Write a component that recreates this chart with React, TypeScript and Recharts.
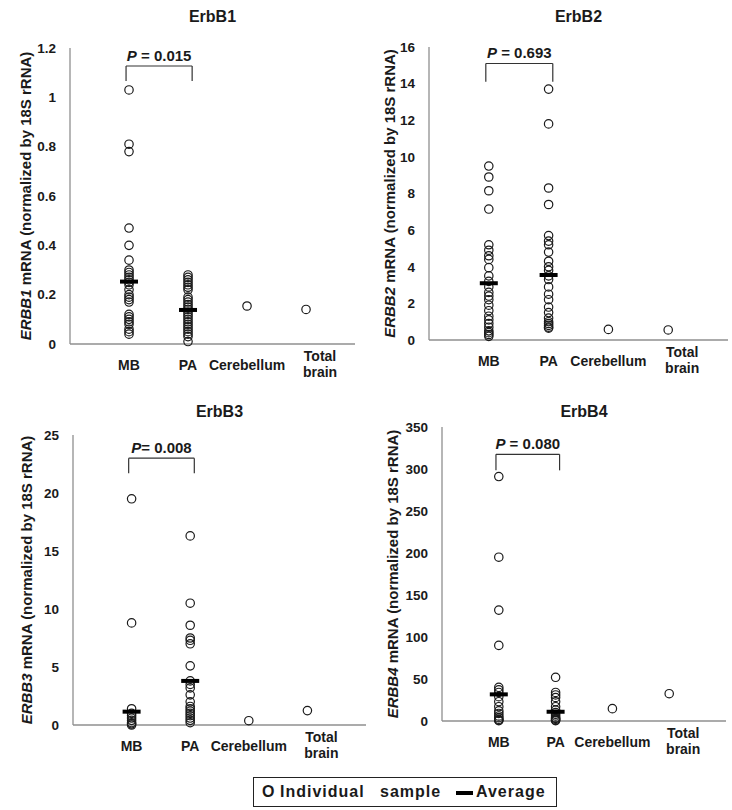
import React from 'react';
import { ScatterChart, Scatter, XAxis, YAxis, ReferenceLine } from 'recharts';

const categories = ['MB', 'PA', 'Cerebellum', 'Total brain'];

// ErbB1
const erbb1MB = [1.03, 0.81, 0.78, 0.47, 0.4, 0.34, 0.3, 0.29, 0.28, 0.27, 0.26, 0.25, 0.24, 0.22, 0.2, 0.19, 0.18, 0.17, 0.12, 0.11, 0.1, 0.09, 0.08, 0.06, 0.05, 0.04];
const erbb1PA = [0.28, 0.27, 0.26, 0.25, 0.24, 0.23, 0.22, 0.19, 0.18, 0.17, 0.16, 0.15, 0.14, 0.13, 0.12, 0.11, 0.1, 0.09, 0.08, 0.07, 0.06, 0.05, 0.04, 0.03, 0.01];
const erbb1Normal = [0.154, 0.14]; // cerebellum, total brain
const erbb1Avg = [0.253, 0.138]; // MB, PA
const erbb1Ticks = [0, 0.2, 0.4, 0.6, 0.8, 1, 1.2];

// ErbB2
const erbb2MB = [9.5, 8.9, 8.15, 7.15, 5.2, 4.9, 4.6, 4.4, 3.95, 3.5, 3.2, 2.9, 2.6, 2.4, 2.2, 1.9, 1.6, 1.3, 1.1, 0.9, 0.7, 0.5, 0.4, 0.3, 0.2];
const erbb2PA = [13.7, 11.8, 8.3, 7.4, 5.7, 5.4, 5.2, 4.8, 4.3, 4.0, 3.8, 3.5, 3.3, 2.9, 2.5, 2.2, 1.8, 1.5, 1.2, 1.0, 0.9, 0.8, 0.7, 0.65];
const erbb2Normal = [0.58, 0.55];
const erbb2Avg = [3.1, 3.55];
const erbb2Ticks = [0, 2, 4, 6, 8, 10, 12, 14, 16];

// ErbB3
const erbb3MB = [19.5, 8.8, 1.4, 1.0, 0.8, 0.6, 0.4, 0.2, 0.1, 0.0];
const erbb3PA = [16.3, 10.5, 8.6, 7.5, 7.3, 7.0, 5.1, 3.8, 3.5, 3.2, 2.6, 2.0, 1.6, 1.4, 1.2, 1.0, 0.8, 0.6, 0.4, 0.2];
const erbb3Normal = [0.37, 1.24];
const erbb3Avg = [1.15, 3.8];
const erbb3Ticks = [0, 5, 10, 15, 20, 25];

// ErbB4
const erbb4MB = [291, 195, 132, 90, 40, 37, 34, 29, 23, 17, 12, 9, 6, 4, 2, 1, 0.5];
const erbb4PA = [52, 34, 31, 28, 23, 17, 13, 10, 8, 6, 4, 3, 2, 1, 0.5];
const erbb4Normal = [14.7, 32.5];
const erbb4Avg = [31.7, 11];
const erbb4Ticks = [0, 50, 100, 150, 200, 250, 300, 350];

const FONT = '"Liberation Sans", Arial, sans-serif';
const AXIS = '#8f8f8f';
const INK = '#1a1a1a';
const W = 366;

const panels = [
  { title: 'ErbB1', gene: 'ERBB1', mb: erbb1MB, pa: erbb1PA, normal: erbb1Normal, avg: erbb1Avg, ticks: erbb1Ticks, p: ' = 0.015',
    left: 0, top: 0, h: 380, plotLeft: 70, plotRight: 355, plotTop: 48, plotBottom: 344, titleY: 17, labelX: 25, xMax: 4.83, bracket: [1.127, 1.066] },
  { title: 'ErbB2', gene: 'ERBB2', mb: erbb2MB, pa: erbb2PA, normal: erbb2Normal, avg: erbb2Avg, ticks: erbb2Ticks, p: ' = 0.693',
    left: 366, top: 0, h: 380, plotLeft: 63, plotRight: 362, plotTop: 47, plotBottom: 340, titleY: 17, labelX: 23, xMax: 5, bracket: [15.1, 14.1] },
  { title: 'ErbB3', gene: 'ERBB3', mb: erbb3MB, pa: erbb3PA, normal: erbb3Normal, avg: erbb3Avg, ticks: erbb3Ticks, p: '= 0.008',
    left: 0, top: 380, h: 392, plotLeft: 73, plotRight: 366, plotTop: 55, plotBottom: 345, titleY: 32, labelX: 26, xMax: 5, bracket: [23.0, 21.7] },
  { title: 'ErbB4', gene: 'ERBB4', mb: erbb4MB, pa: erbb4PA, normal: erbb4Normal, avg: erbb4Avg, ticks: erbb4Ticks, p: ' = 0.080',
    left: 366, top: 380, h: 392, plotLeft: 76, plotRight: 360, plotTop: 47, plotBottom: 341, titleY: 32, labelX: 26, xMax: 5, bracket: [317.5, 298.4] },
];

const OpenCircle = (props: any) => (
  <circle cx={props.cx} cy={props.cy} r={4.2} fill="none" stroke={INK} strokeWidth={1.2} />
);

const AvgDash = (props: any) => (
  <rect x={props.cx - 9} y={props.cy - 2} width={18} height={4} fill="#000" />
);

const CategoryTick = (props: any) => {
  const { x, y, payload } = props;
  const label = categories[payload.value - 1] ?? '';
  const words = label.split(' ');
  const nudge = words.length > 1 ? 14 : 0;
  return (
    <text x={x + nudge} y={y} textAnchor="middle" fontFamily={FONT} fontWeight="bold" fontSize={14} fill={INK}>
      {words.length > 1
        ? words.map((w: string, i: number) => (
            <tspan key={w} x={x + nudge} dy={i === 0 ? 9 : 16}>{w}</tspan>
          ))
        : <tspan x={x} dy={18}>{label}</tspan>}
    </text>
  );
};

function Panel({ cfg }: { cfg: typeof panels[number] }) {
  const mbPts = cfg.mb.map(v => ({ x: 1, y: v }));
  const paPts = cfg.pa.map(v => ({ x: 2, y: v }));
  const normPts = cfg.normal.map((v, i) => ({ x: 3 + i, y: v }));
  const avgPts = cfg.avg.map((v, i) => ({ x: 1 + i, y: v }));
  const yMax = cfg.ticks[cfg.ticks.length - 1];
  const [bTop, bBot] = cfg.bracket;
  const bx0 = 0.95;
  const bx1 = 2.07;

  const yLabel = (p: any) => {
    const vb = p.viewBox;
    const cx = cfg.labelX;
    const cy = vb.y + vb.height / 2;
    return (
      <text x={cx} y={cy} transform={`rotate(-90 ${cx} ${cy})`} textAnchor="middle" dominantBaseline="central"
        fontFamily={FONT} fontWeight="bold" fontSize={15} fill={INK}>
        <tspan fontStyle="italic">{cfg.gene}</tspan>
        <tspan> mRNA (normalized by 18S rRNA)</tspan>
      </text>
    );
  };

  const pLabel = (p: any) => {
    const vb = p.viewBox;
    return (
      <text x={vb.x + vb.width / 2} y={vb.y - 5} textAnchor="middle" fontFamily={FONT} fontWeight="bold"
        fontSize={15} fill={INK} style={{ whiteSpace: 'pre' }}>
        <tspan fontStyle="italic">P</tspan>
        <tspan>{cfg.p}</tspan>
      </text>
    );
  };

  return (
    <div style={{ position: 'absolute', left: cfg.left, top: cfg.top, width: W, height: cfg.h }}>
      <div style={{
        position: 'absolute', left: cfg.plotLeft, width: cfg.plotRight - cfg.plotLeft, top: cfg.titleY - 10,
        textAlign: 'center', fontFamily: FONT, fontWeight: 'bold', fontSize: 16, lineHeight: '20px', color: INK,
      }}>
        {cfg.title}
      </div>
      <ScatterChart width={W} height={cfg.h}
        margin={{ top: cfg.plotTop, right: W - cfg.plotRight, bottom: cfg.h - cfg.plotBottom - 36, left: 0 }}>
        <XAxis type="number" dataKey="x" domain={[0, cfg.xMax]} ticks={[1, 2, 3, 4]} interval={0}
          allowDataOverflow height={36} tickLine={false} axisLine={{ stroke: AXIS, strokeWidth: 1.3 }}
          tick={<CategoryTick />} />
        <YAxis type="number" dataKey="y" domain={[0, yMax]} ticks={cfg.ticks} interval={0} width={cfg.plotLeft}
          tickLine={false} tickSize={0} tickMargin={14} axisLine={{ stroke: AXIS, strokeWidth: 1.3 }}
          tick={{ fontFamily: FONT, fontWeight: 'bold', fontSize: 13.5, fill: INK }} label={yLabel} />
        <ReferenceLine segment={[{ x: bx0, y: bTop }, { x: bx1, y: bTop }]} stroke="#333" strokeWidth={1.2} label={pLabel} />
        <ReferenceLine segment={[{ x: bx0, y: bTop }, { x: bx0, y: bBot }]} stroke="#333" strokeWidth={1.2} />
        <ReferenceLine segment={[{ x: bx1, y: bTop }, { x: bx1, y: bBot }]} stroke="#333" strokeWidth={1.2} />
        <Scatter data={mbPts} shape={OpenCircle} isAnimationActive={false} />
        <Scatter data={paPts} shape={OpenCircle} isAnimationActive={false} />
        <Scatter data={normPts} shape={OpenCircle} isAnimationActive={false} />
        <Scatter data={avgPts} shape={AvgDash} isAnimationActive={false} />
      </ScatterChart>
    </div>
  );
}

export default function App() {
  const txt: React.CSSProperties = {
    position: 'absolute', top: 3, fontFamily: FONT, fontWeight: 'bold', fontSize: 16, letterSpacing: 1, color: INK,
    lineHeight: '22px',
  };
  return (
    <div style={{ position: 'absolute', left: 0, top: 0, width: 732, height: 810, background: '#fff' }}>
      {panels.map(cfg => <Panel key={cfg.title} cfg={cfg} />)}
      <div style={{ position: 'absolute', left: 253, top: 777, width: 302, height: 28, border: '1.5px solid #222' }}>
        <span style={{ ...txt, left: 8 }}>O</span>
        <span style={{ ...txt, left: 26 }}>Individual</span>
        <span style={{ ...txt, left: 126 }}>sample</span>
        <span style={{ position: 'absolute', left: 202, top: 13, width: 17, height: 4, background: '#000' }} />
        <span style={{ ...txt, left: 222 }}>Average</span>
      </div>
    </div>
  );
}
